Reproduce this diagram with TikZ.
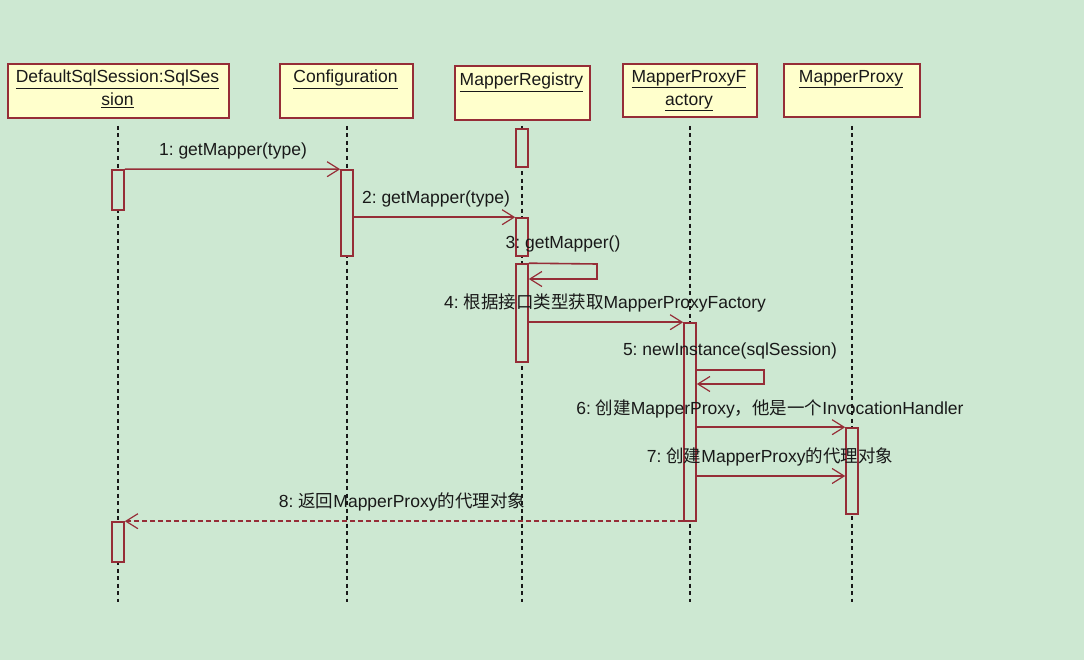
\documentclass[tikz,border=0pt]{standalone}
\usepackage{fontspec}
\setmainfont{Liberation Sans}
\newfontfamily\cjk{Noto Sans CJK SC}
\usetikzlibrary{arrows.meta}
\definecolor{bg}{RGB}{205,232,210}
\definecolor{headfill}{RGB}{255,255,204}
\definecolor{dred}{RGB}{150,45,55}
\definecolor{txt}{RGB}{25,25,25}
\newcommand{\zh}[1]{{\cjk #1}}
\frenchspacing
\tikzset{
  head/.style={draw=dred, fill=headfill, line width=1.6bp, inner sep=0pt, anchor=north west},
  headtext/.style={text=txt, font=\fontsize{17.5bp}{23bp}\selectfont, align=center, inner sep=0pt},
  life/.style={draw=txt, line width=1.6bp, dash pattern=on 4bp off 3.5bp},
  act/.style={draw=dred, fill=bg, line width=1.6bp, minimum width=12bp, inner sep=0pt},
  msg/.style={draw=dred, line width=1.6bp, -{Straight Barb[length=12bp,width=15bp,line width=1.2bp]}},
  ret/.style={draw=dred, line width=1.6bp, dash pattern=on 5bp off 3bp, -{Straight Barb[length=12bp,width=15bp,line width=1.2bp]}},
  lbl/.style={text=txt, font=\fontsize{17.5bp}{20bp}\selectfont, inner sep=0pt}
}
\begin{document}
\begin{tikzpicture}[x=1bp,y=-1bp]
\fill[bg] (0,0) rectangle (1084,660);
\useasboundingbox (0,0) rectangle (1084,660);

% heads
\node[head, minimum width=221bp, minimum height=54bp] (h1) at (7,63) {};
\node[head, minimum width=133bp, minimum height=54bp] (h2) at (279,63) {};
\node[head, minimum width=135bp, minimum height=54bp] (h3) at (454,65) {};
\node[head, minimum width=134bp, minimum height=53bp] (h4) at (622,63) {};
\node[head, minimum width=136bp, minimum height=53bp] (h5) at (783,63) {};

\node[headtext, anchor=north] (t1) at (117.5,70) {\underline{DefaultSqlSession:SqlSes}\\\underline{sion}};
\node[headtext, anchor=north] (t2) at (345.5,70) {\underline{Configuration}};
\node[headtext, anchor=north] (t3) at (521.5,73) {\underline{MapperRegistry}};
\node[headtext, anchor=north] (t4) at (689,70) {\underline{MapperProxyF}\\\underline{actory}};
\node[headtext, anchor=north] (t5) at (851,70) {\underline{MapperProxy}};

% lifeline ends
\coordinate (s1) at (118,126);
\coordinate (s2) at (347,126);
\coordinate (s3) at (522,126);
\coordinate (s4) at (690,126);
\coordinate (s5) at (852,126);
\coordinate (e1) at (118,602);
\coordinate (e2) at (347,602);
\coordinate (e3) at (522,602);
\coordinate (e4) at (690,602);
\coordinate (e5) at (852,602);
\draw[life] (s1) -- (e1);
\draw[life] (s2) -- (e2);
\draw[life] (s3) -- (e3);
\draw[life] (s4) -- (e4);
\draw[life] (s5) -- (e5);

% activations
\node[act, minimum height=40bp] (d1) at (118,190) {};
\node[act, minimum height=40bp] (d2) at (118,542) {};
\node[act, minimum height=86bp] (c1) at (347,213) {};
\node[act, minimum height=38bp] (r1) at (522,148) {};
\node[act, minimum height=38bp] (r2) at (522,237) {};
\node[act, minimum height=98bp] (r3) at (522,313) {};
\node[act, minimum height=198bp] (f1) at (690,422) {};
\node[act, minimum height=86bp] (p1) at (852,471) {};

% loop corner coordinates
\coordinate (l3a) at (597,264);
\coordinate (l3b) at (597,279);
\coordinate (l5a) at (764,370);
\coordinate (l5b) at (764,384);

% messages
\draw[msg] (d1.north east) -- (c1.north west);
\draw[msg] (c1.east |- r2.north) -- (r2.north west);
\draw[msg] (r3.north east) -- (l3a) -- (l3b) -- (r3.east |- l3b);
\draw[msg] (r3.east |- f1.north) -- (f1.north west);
\draw[msg] (f1.east |- l5a) -- (l5a) -- (l5b) -- (f1.east |- l5b);
\draw[msg] (f1.east |- p1.north) -- (p1.north west);
\coordinate (m7) at (846,476);
\draw[msg] (f1.east |- m7) -- (p1.west |- m7);
\draw[ret] (f1.west |- d2.north) -- (d2.north east);

% labels
\node[lbl] (n1) at (233,151) {1: getMapper(type)};
\node[lbl] (n2) at (436,199) {2: getMapper(type)};
\node[lbl] (n3) at (563,244) {3: getMapper()};
\node[lbl] (n4) at (605,303) {4: \zh{根据接口类型获取}MapperProxyFactory};
\node[lbl] (n5) at (730,351) {5: newInstance(sqlSession)};
\node[lbl] (n6) at (770,409) {6: \zh{创建}MapperProxy\zh{，他是一个}InvocationHandler};
\node[lbl] (n7) at (770,457) {7: \zh{创建}MapperProxy\zh{的代理对象}};
\node[lbl] (n8) at (402,502) {8: \zh{返回}MapperProxy\zh{的代理对象}};
\end{tikzpicture}
\end{document}
